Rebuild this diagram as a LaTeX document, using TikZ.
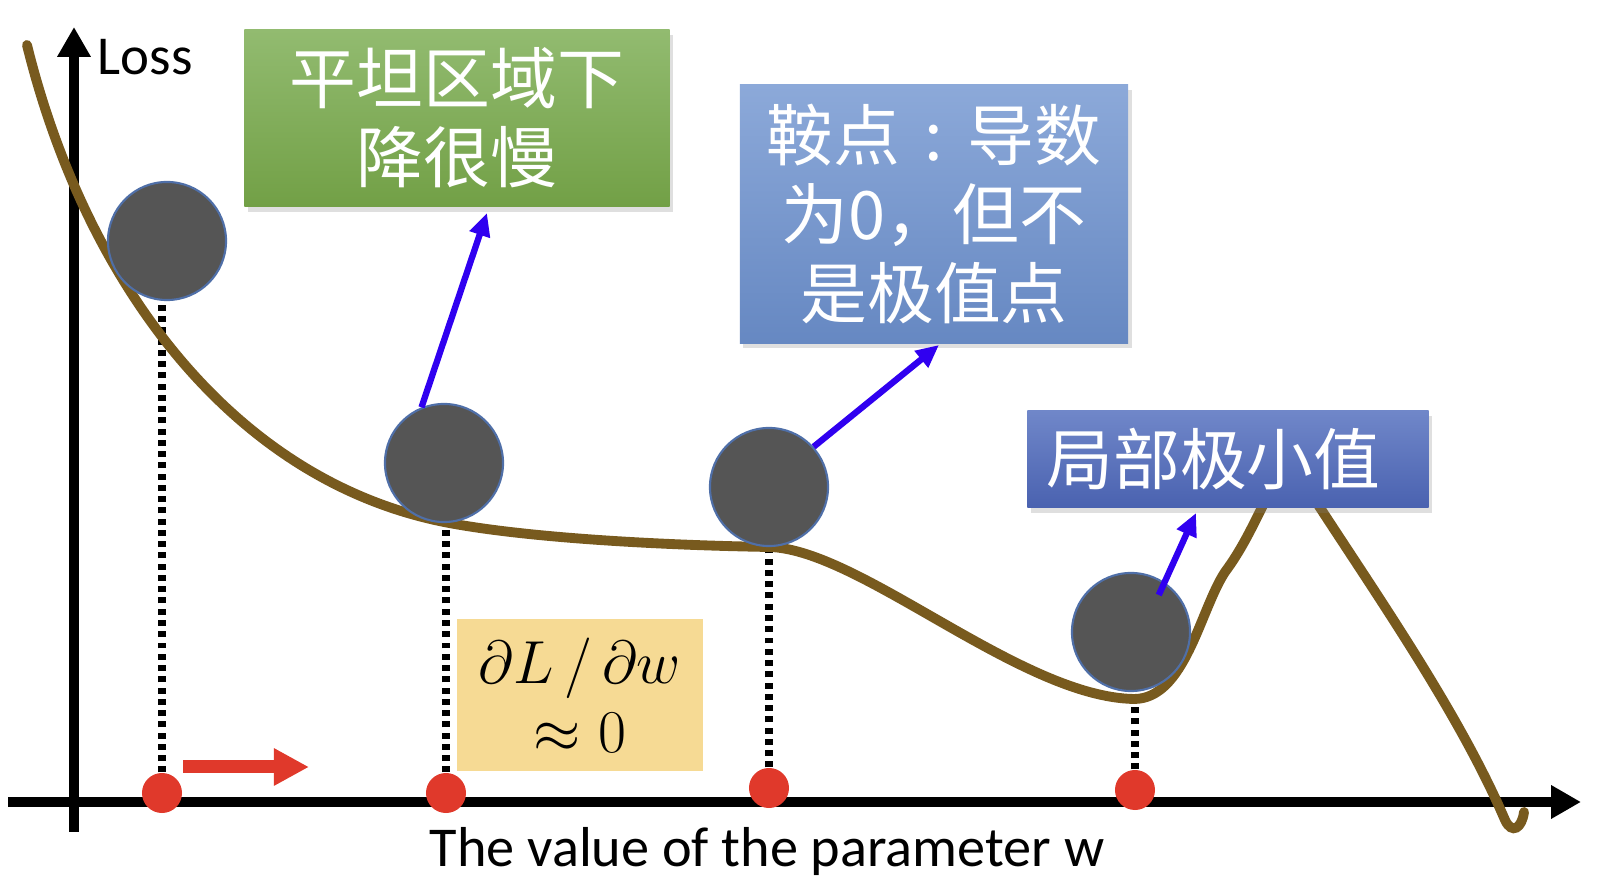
\documentclass[tikz,border=0pt]{standalone}
\usepackage{fontspec}
\setmainfont{Carlito}
\newfontfamily\cjk{Noto Sans CJK SC}
\usepackage{amsmath}
\usetikzlibrary{arrows.meta,shadows,backgrounds}
\definecolor{lossbrown}{HTML}{785A1E}
\definecolor{stonegray}{HTML}{555555}
\definecolor{stonerim}{HTML}{4F6FA8}
\definecolor{dotred}{HTML}{E0392B}
\definecolor{pushblue}{HTML}{3000F0}
\definecolor{flattop}{HTML}{92BB70}
\definecolor{flatbot}{HTML}{72A046}
\definecolor{saddletop}{HTML}{8CA9D9}
\definecolor{saddlebot}{HTML}{6688C2}
\definecolor{mintop}{HTML}{7087C9}
\definecolor{minbot}{HTML}{4A62B0}
\definecolor{notefill}{HTML}{F6DA94}

\tikzset{
  stone/.style={circle, minimum size=1.18cm, inner sep=0pt, fill=stonegray, draw=stonerim, line width=0.6pt},
  reddot/.style={circle, minimum size=0.4cm, inner sep=0pt, fill=dotred},
  tagbox/.style={inner sep=0pt, align=center, text=white, font={\cjk\fontsize{19}{22.5}\selectfont},
                 drop shadow={shadow xshift=1pt, shadow yshift=-1.5pt, opacity=0.25}},
  axis/.style={line width=2.8pt, -{Triangle[width=9pt,length=8.5pt]}},
  drop/.style={line width=2pt, dash pattern=on 1.7pt off 1.5pt},
  push/.style={pushblue, line width=1.8pt, -{Triangle[width=5.8pt,length=6.5pt]}},
}

\begin{document}
\begin{tikzpicture}[x=0.01cm, y=-0.01cm]
\useasboundingbox (0,0) rectangle (1602,880);

% balls and their positions on the axis
\node[stone] (b1) at (167,241) {};
\node[stone] (b2) at (444,463) {};
\node[stone] (b3) at (769,487) {};
\node[stone] (b4) at (1131,632) {};
\node[reddot] (d1) at (162,793) {};
\node[reddot] (d2) at (446,793) {};
\node[reddot] (d3) at (769,788) {};
\node[reddot] (d4) at (1135,790) {};

% boxes
\node[tagbox, top color=flattop, bottom color=flatbot, minimum width=4.25cm, minimum height=1.77cm]
  (flat) at (457,118) {平坦区域下\\降很慢};
\node[tagbox, top color=saddletop, bottom color=saddlebot, minimum width=3.88cm, minimum height=2.58cm]
  (saddle) at (934,214) {鞍点\makebox[1em]{:}导数\\为0，但不\\是极值点};
\node[tagbox, top color=mintop, bottom color=minbot, minimum height=0.97cm, text width=3.63cm,
      inner xsep=0.19cm, align=left]
  (localmin) at (1228,459) {局部极小值};
\node[fill=notefill, minimum width=2.45cm, minimum height=1.52cm, inner sep=0pt, align=center,
      font=\fontsize{16}{19.5}\selectfont]
  (grad) at (580,695) {$\partial L\,/\,\partial w$\\$\approx 0$};

\node[anchor=base west, inner sep=0pt, font=\fontsize{15.6}{18}\selectfont] (loss) at (97,75) {Loss};
\node[anchor=base, inner sep=0pt, font=\fontsize{16}{19}\selectfont] (wlabel) at (767,867) {The value of the parameter w};

\coordinate (ybot) at (74,832);
\coordinate (ytop) at (74,27);
\coordinate (xleft) at (8,802);
\coordinate (xright) at (1581,802);

\begin{scope}[on background layer]
\draw[axis] (ybot) -- (ytop);
\draw[axis] (xleft) -- (xright);
\foreach \i in {1,...,4}
  \draw[drop] (d\i.north) -- (d\i.north |- b\i.south);
\draw[lossbrown, line width=2.8pt, line cap=round]
  (27,45) .. controls (85,280) and (230,479) .. (444,522)
  .. controls (520,537) and (650,545) .. (769,547)
  .. controls (860,549) and (1020,697) .. (1134,699)
  .. controls (1185,699) and (1200,610) .. (1225,572)
  .. controls (1245,545) and (1255,520) .. (1270,492)
  .. controls (1285,465) and (1300,470) .. (1315,500)
  .. controls (1380,600) and (1460,715) .. (1505,820)
  .. controls (1512,835) and (1522,828) .. (1524,812);
\end{scope}

% arrows
\coordinate (flattip) at (487,213);
\coordinate (saddletip) at (939,345);
\coordinate (mintip) at (1196,513);
\coordinate (goL) at (183,767);
\coordinate (goR) at (309,767);
\draw[push] (b2.112) -- (flattip);
\draw[push] (b3.42) -- (saddletip);
\draw[push, shorten <=-4pt] (b4.56) -- (mintip);
\draw[dotred, line width=3.7pt, -{Triangle[width=10pt,length=10pt]}] (goL) -- (goR);
\end{tikzpicture}
\end{document}
